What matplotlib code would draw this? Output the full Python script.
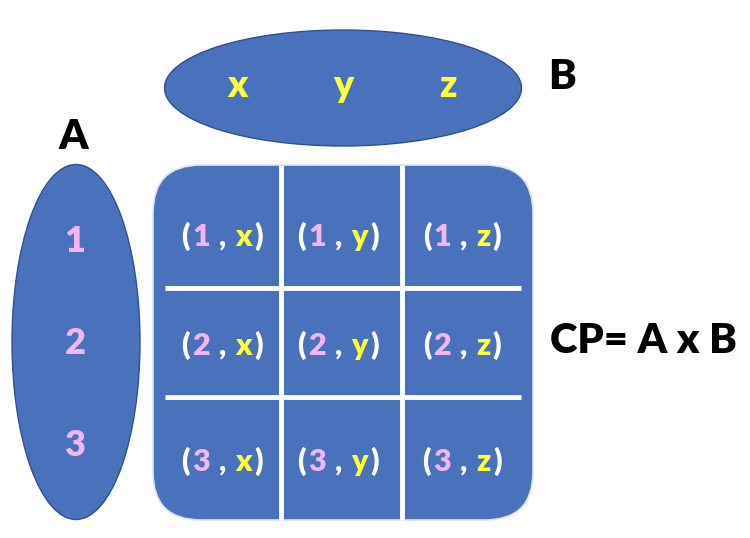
import matplotlib.pyplot as plt
from matplotlib.patches import Ellipse, FancyBboxPatch
from matplotlib.offsetbox import TextArea, HPacker, AnnotationBbox

plt.rcParams["font.family"] = ["Lato", "DejaVu Sans"]

set_a = ["1", "2", "3"]
set_b = ["x", "y", "z"]
label_a = "A"
label_b = "B"
label_cp = "CP= A x B"

blue = "#4A72BC"
edge = "#2F528F"
pink = "#F2B6F2"
yellow = "#FFFF3A"

fig = plt.figure(figsize=(7.5, 5.38), dpi=100)
ax = fig.add_axes([0, 0, 1, 1])
ax.set_xlim(0, 750)
ax.set_ylim(538, 0)
ax.axis("off")

# set B (top ellipse)
ax.add_patch(Ellipse((343, 88), 357, 116, facecolor=blue, edgecolor=edge, lw=1))
for bx, b in zip([237, 343, 448], set_b):
    ax.text(bx, 86, b, color=yellow, fontsize=27, fontweight="heavy",
            ha="center", va="center")
ax.text(562, 77, label_b, fontsize=30, fontweight="heavy", ha="center", va="center")

# set A (left ellipse)
ax.add_patch(Ellipse((76, 342), 128, 355, facecolor=blue, edgecolor=edge, lw=1))
for ay, a in zip([241, 343, 445], set_a):
    ax.text(75, ay, a, color=pink, fontsize=26, fontweight="heavy",
            ha="center", va="center")
ax.text(73, 137, label_a, fontsize=30, fontweight="heavy", ha="center", va="center")

# cartesian product grid
ax.add_patch(FancyBboxPatch((153, 165), 380, 355,
                            boxstyle="round,pad=0,rounding_size=48",
                            facecolor=blue, edgecolor="#DCE3F0", lw=1.2))
for vx in [281, 402]:
    ax.plot([vx, vx], [165, 520], color="white", lw=3.5, solid_capstyle="butt")
for hy in [288, 397]:
    ax.plot([165, 521], [hy, hy], color="white", lw=3.5, solid_capstyle="butt")

col_x = [222, 338, 462]
row_y = [236, 345, 461]
for i, a in enumerate(set_a):
    for j, b in enumerate(set_b):
        style = dict(fontsize=22, fontweight="heavy")
        pieces = [
            TextArea("(", textprops=dict(color="white", **style)),
            TextArea(a, textprops=dict(color=pink, **style)),
            TextArea(" , ", textprops=dict(color="white", **style)),
            TextArea(b, textprops=dict(color=yellow, **style)),
            TextArea(")", textprops=dict(color="white", **style)),
        ]
        box = HPacker(children=pieces, sep=1.5, pad=0, align="baseline")
        ax.add_artist(AnnotationBbox(box, (col_x[j], row_y[i]), frameon=False,
                                     box_alignment=(0.5, 0.5)))

ax.text(643, 341, label_cp, fontsize=30, fontweight="heavy", ha="center", va="center")

fig.savefig("out.png", dpi=100)
